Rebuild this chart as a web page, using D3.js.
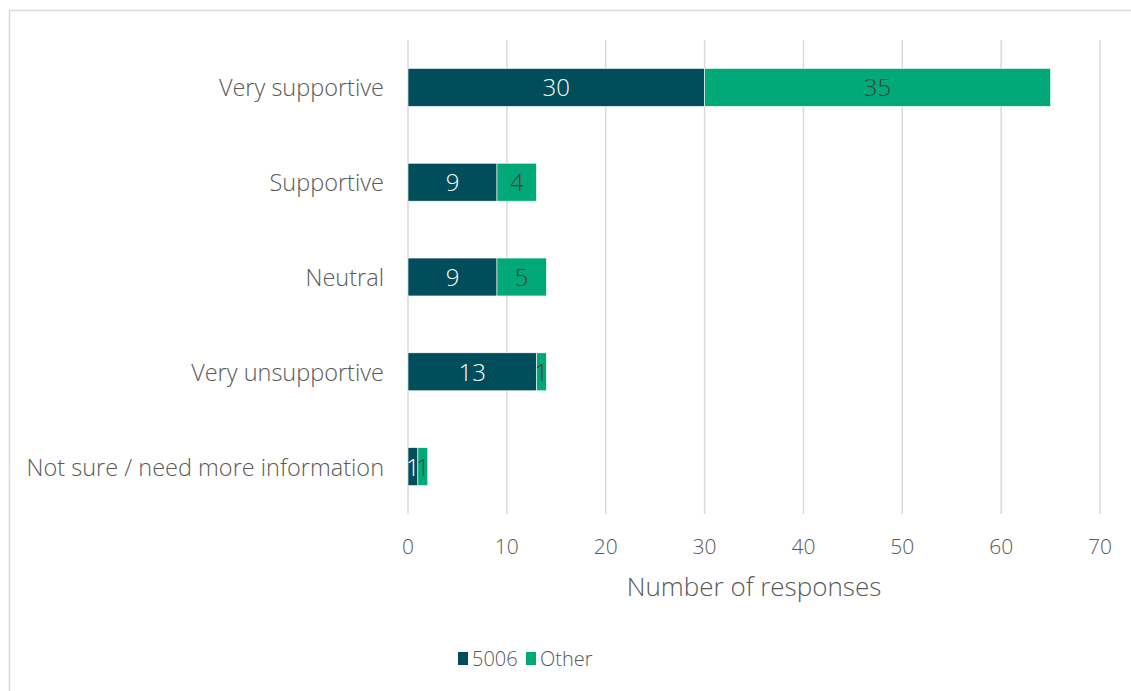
<!DOCTYPE html>
<html>
<head>
<meta charset="utf-8">
<script src="https://d3js.org/d3.v7.min.js"></script>
<style>
  body { margin: 0; background: #fff; font-family: 'Open Sans', 'Lato', sans-serif; font-weight: 300; }
</style>
</head>
<body>
<svg id="svg" width="1131" height="691"></svg>
<script>
// data
const categories = ["Very supportive", "Supportive", "Neutral", "Very unsupportive", "Not sure / need more information"];
const series = ["5006", "Other"];
const values5006 = [30, 9, 9, 13, 1];
const valuesOther = [35, 4, 5, 1, 1];
const xTicks = [0, 10, 20, 30, 40, 50, 60, 70];

const colors = { "5006": "#004d5b", "Other": "#00a977" };
const textColor = "#595959";

const svg = d3.select("#svg");

// outer frame
svg.append("rect")
  .attr("x", 9.5).attr("y", 10.5)
  .attr("width", 1140).attr("height", 700)
  .attr("fill", "none")
  .attr("stroke", "#d9d9d9")
  .attr("stroke-width", 1.5);

const rows = categories.map((c, i) => ({ cat: c, a: values5006[i], b: valuesOther[i] }));

const x = d3.scaleLinear().domain([0, 70]).range([408, 1100]);
const y = d3.scaleBand().domain(categories).range([40, 514]).paddingInner(0.6).paddingOuter(0.3);

// gridlines
svg.append("g").selectAll("line")
  .data(xTicks)
  .join("line")
  .attr("x1", d => x(d)).attr("x2", d => x(d))
  .attr("y1", 40).attr("y2", 514)
  .attr("stroke", "#d9d9d9")
  .attr("stroke-width", 1.5);

// tick labels
svg.append("g").selectAll("text")
  .data(xTicks)
  .join("text")
  .attr("x", d => x(d))
  .attr("y", 554)
  .attr("text-anchor", "middle")
  .attr("font-size", "21px")
  .attr("fill", textColor)
  .text(d => d);

// category labels
svg.append("g").selectAll("text")
  .data(categories)
  .join("text")
  .attr("x", 384)
  .attr("y", d => y(d) + y.bandwidth() / 2 + 9)
  .attr("text-anchor", "end")
  .attr("font-size", "23.5px")
  .attr("fill", textColor)
  .text(d => d);

// bars
const g = svg.append("g");
g.selectAll("rect.a")
  .data(rows)
  .join("rect")
  .attr("class", "a")
  .attr("x", x(0))
  .attr("y", d => y(d.cat))
  .attr("width", d => x(d.a) - x(0))
  .attr("height", y.bandwidth())
  .attr("fill", colors["5006"])
  .attr("stroke", "#ffffff")
  .attr("stroke-width", 0.6);

g.selectAll("rect.b")
  .data(rows)
  .join("rect")
  .attr("class", "b")
  .attr("x", d => x(d.a))
  .attr("y", d => y(d.cat))
  .attr("width", d => x(d.a + d.b) - x(d.a))
  .attr("height", y.bandwidth())
  .attr("fill", colors["Other"])
  .attr("stroke", "#ffffff")
  .attr("stroke-width", 0.6);

// value labels
g.selectAll("text.a")
  .data(rows)
  .join("text")
  .attr("class", "a")
  .attr("x", d => (x(0) + x(d.a)) / 2)
  .attr("y", d => y(d.cat) + y.bandwidth() / 2 + 9)
  .attr("text-anchor", "middle")
  .attr("font-size", "24px")
  .attr("fill", "#ffffff")
  .text(d => d.a);

g.selectAll("text.b")
  .data(rows)
  .join("text")
  .attr("class", "b")
  .attr("x", d => (x(d.a) + x(d.a + d.b)) / 2)
  .attr("y", d => y(d.cat) + y.bandwidth() / 2 + 9)
  .attr("text-anchor", "middle")
  .attr("font-size", "24px")
  .attr("fill", "#404040")
  .text(d => d.b);

// axis title
svg.append("text")
  .attr("x", x(35))
  .attr("y", 596)
  .attr("text-anchor", "middle")
  .attr("font-size", "26px")
  .attr("fill", textColor)
  .text("Number of responses");

// legend
const legendX = [458, 526];
const legend = svg.append("g").selectAll("g")
  .data(series)
  .join("g")
  .attr("transform", (d, i) => `translate(${legendX[i]},652)`);
legend.append("rect")
  .attr("width", 10).attr("height", 13)
  .attr("fill", d => colors[d]);
legend.append("text")
  .attr("x", 14).attr("y", 14)
  .attr("font-size", "20px")
  .attr("fill", textColor)
  .text(d => d);
</script>
</body>
</html>
